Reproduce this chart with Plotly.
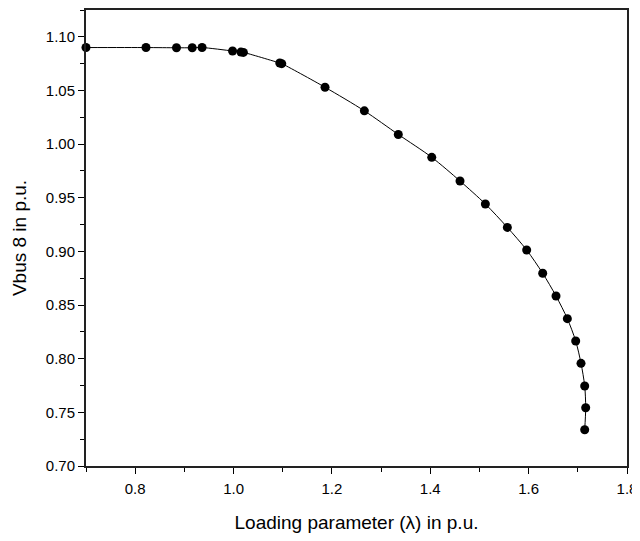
import plotly.graph_objects as go

lam = [0.700, 0.822, 0.884, 0.916, 0.936, 0.998, 1.015, 1.020, 1.094, 1.098,
       1.186, 1.266, 1.335, 1.403, 1.4605, 1.512, 1.5567, 1.596, 1.6286,
       1.6557, 1.6787, 1.6957, 1.7065, 1.714, 1.716, 1.714]
vbus = [1.090, 1.090, 1.0898, 1.0898, 1.090, 1.0868, 1.0858, 1.0855, 1.0756, 1.0750,
        1.053, 1.031, 1.009, 0.9877, 0.9656, 0.9442, 0.9224, 0.9013, 0.8796,
        0.8584, 0.8373, 0.8165, 0.7957, 0.7746, 0.7543, 0.7338]

x_range = [0.7, 1.8]
y_range = [0.70, 1.125]
x_ticks = [0.8, 1.0, 1.2, 1.4, 1.6, 1.8]
y_ticks = [0.70, 0.75, 0.80, 0.85, 0.90, 0.95, 1.00, 1.05, 1.10]

font = "Liberation Sans, Arial, sans-serif"

fig = go.Figure()
fig.add_trace(go.Scatter(
    x=lam, y=vbus, mode="lines+markers",
    line=dict(color="black", width=1, shape="spline", smoothing=0.8),
    marker=dict(color="black", size=9),
    showlegend=False, cliponaxis=False,
))

axis_common = dict(showgrid=False, zeroline=False, showline=True, mirror=True,
                   linecolor="#222222", linewidth=2, automargin=False,
                   tickfont=dict(family=font, size=15, color="black"))

# page body has an 8px default margin, so the figure is sized to fit
fig.update_layout(
    width=632, height=533,
    margin=dict(l=78, r=13, t=2, b=75),
    paper_bgcolor="white", plot_bgcolor="white",
    xaxis=dict(range=x_range, tickvals=x_ticks,
               ticktext=[f"{v:.1f}" for v in x_ticks],
               ticks="outside", ticklen=6, tickcolor="black", tickwidth=1.3,
               ticklabelstandoff=2,
               minor=dict(dtick=0.1, tick0=0.7, ticks="outside", ticklen=4,
                          tickcolor="black", tickwidth=1.3),
               title=dict(text="Loading parameter (λ) in p.u.",
                          font=dict(family=font, size=19, color="black"),
                          standoff=20),
               **axis_common),
    yaxis=dict(range=y_range, tickvals=y_ticks,
               ticktext=[f"{v:.2f}" for v in y_ticks],
               ticks="outside", ticklen=6, tickcolor="black", tickwidth=1.3,
               minor=dict(dtick=0.025, tick0=0.7, ticks="outside", ticklen=4,
                          tickcolor="black", tickwidth=1.3),
               title=dict(text="Vbus 8 in p.u.",
                          font=dict(family=font, size=19, color="black"),
                          standoff=14),
               **axis_common),
)

fig.write_html("out.html")
